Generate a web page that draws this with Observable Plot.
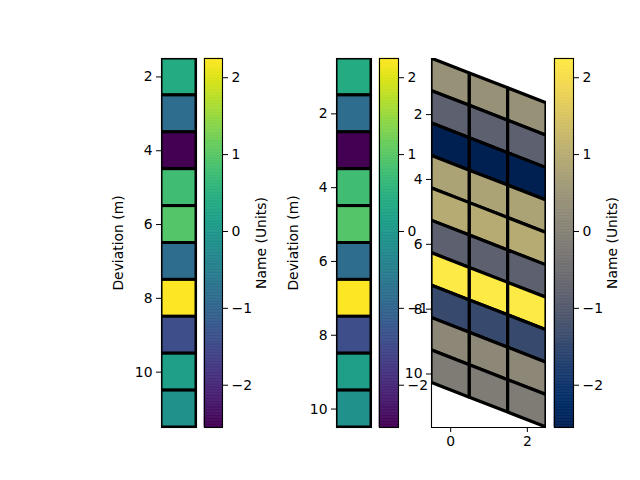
<!DOCTYPE html>
<html>
<head>
<meta charset="utf-8">
<script src="https://cdn.jsdelivr.net/npm/d3@7"></script>
<script src="https://cdn.jsdelivr.net/npm/@observablehq/plot@0.6"></script>
<style>
  html, body { margin: 0; padding: 0; background: white; }
  #fig { position: relative; width: 640px; height: 480px; overflow: hidden; background: white; }
  #fig svg { position: absolute; left: 0; top: 0; }
</style>
</head>
<body>
<div id="fig"></div>
<script>
// ---- data ----
const depthA = [2, 3, 4, 5, 6, 7, 8, 9, 10, 11];
const depthB = [1, 2, 3, 4, 5, 6, 7, 8, 9, 10];
const values = [0.38, -0.85, -2.55, 0.78, 0.97, -0.85, 2.25, -1.42, 0.14, -0.15];
const meshCols = [0, 1, 2];
const meshSkew = 0.46;
const yTicks = [2, 4, 6, 8, 10];
const cbTicks = [-2, -1, 0, 1, 2];
const xTicks = [0, 2];
const colorDomain = [-2.55, 2.25];
const yLabel = "Deviation (m)";
const cLabel = "Name (Units)";

// ---- helpers ----
const fig = document.getElementById("fig");
const W = 640, H = 480, TOP = 58, BOTTOM = 427;
const fmt = d => d < 0 ? "\u2212" + (-d) : String(d);
const baseStyle = {background: "transparent", fontFamily: "DejaVu Sans", fontSize: "13.9px", color: "black", overflow: "visible"};

function place(left, right, opts) {
  const svg = Plot.plot({
    width: W, height: H,
    marginLeft: left, marginRight: W - right, marginTop: TOP, marginBottom: H - BOTTOM,
    style: baseStyle,
    ...opts
  });
  fig.append(svg);
}

const cellsA = depthA.map((d, i) => ({d, v: values[i]}));
const cellsB = depthB.map((d, i) => ({d, v: values[i]}));

function columnPanel(left, right, cells, yDomain) {
  place(left, right, {
    x: {domain: [0, 1], axis: null},
    y: {domain: yDomain, reverse: true, axis: null},
    color: {type: "linear", scheme: "viridis", domain: colorDomain},
    marks: [
      Plot.rect(cells, {x1: 0, x2: 1, y1: d => d.d - 0.5, y2: d => d.d + 0.5, fill: "v", stroke: "black", strokeWidth: 3, clip: true}),
      Plot.frame({stroke: "black", strokeWidth: 1.1}),
      Plot.axisY({anchor: "left", ticks: yTicks, tickSize: 5, tickPadding: 4, tickFormat: fmt,
        label: yLabel, labelAnchor: "center", labelArrow: "none", labelOffset: 48})
    ]
  });
}

function colorbar(left, right, scheme, withLabel) {
  const n = 240;
  const step = (colorDomain[1] - colorDomain[0]) / n;
  const ramp = d3.range(n).map(k => colorDomain[0] + k * step);
  place(left, right, {
    x: {domain: [0, 1], axis: null},
    y: {domain: colorDomain, axis: null},
    color: {type: "linear", scheme, domain: colorDomain},
    marks: [
      Plot.rect(ramp, {x1: 0, x2: 1, y1: d => d, y2: d => d + step, fill: d => d + step / 2, stroke: d => d + step / 2, strokeWidth: 0.6}),
      Plot.frame({stroke: "black", strokeWidth: 1.1}),
      Plot.axisY({anchor: "right", ticks: cbTicks, tickSize: 5, tickPadding: 4, tickFormat: fmt,
        label: withLabel ? cLabel : null, labelAnchor: "center", labelArrow: "none", labelOffset: 43})
    ]
  });
}

// Panel 1
columnPanel(161, 196, cellsA, [1.5, 11.5]);
colorbar(204, 222, "viridis", true);
// Panel 2
columnPanel(336, 371, cellsB, [0.5, 10.5]);
colorbar(379, 398, "viridis", false);

// Panel 3: skewed mesh
const mesh = [];
depthB.forEach((d, i) => {
  meshCols.forEach(c => {
    [c - 0.5, c + 0.5].forEach(x => {
      mesh.push({cell: i + "-" + c, x, y1: d - 0.5 + meshSkew * x, y2: d + 0.5 + meshSkew * x, v: values[i]});
    });
  });
});
const yMin = d3.min(mesh, d => d.y1), yMax = d3.max(mesh, d => d.y2);
place(431, 546, {
  x: {domain: [-0.5, 2.5], axis: null},
  y: {domain: [yMin, yMax], reverse: true, axis: null},
  color: {type: "linear", scheme: "cividis", domain: colorDomain},
  marks: [
    Plot.frame({fill: "white"}),
    Plot.area(mesh, {x1: "x", y1: "y1", y2: "y2", z: "cell", fill: "v", stroke: "black", strokeWidth: 3.2, strokeLinejoin: "miter", clip: true}),
    Plot.ruleX([-0.5], {stroke: "black", strokeWidth: 1.1}),
    Plot.ruleY([yMax], {stroke: "black", strokeWidth: 1.1}),
    Plot.axisY({anchor: "left", ticks: yTicks, tickSize: 5, tickPadding: 4, tickFormat: fmt, label: null}),
    Plot.axisX({anchor: "bottom", ticks: xTicks, tickSize: 5, tickPadding: 4, tickFormat: fmt, label: null})
  ]
});
colorbar(554, 573, "cividis", true);
</script>
</body>
</html>
